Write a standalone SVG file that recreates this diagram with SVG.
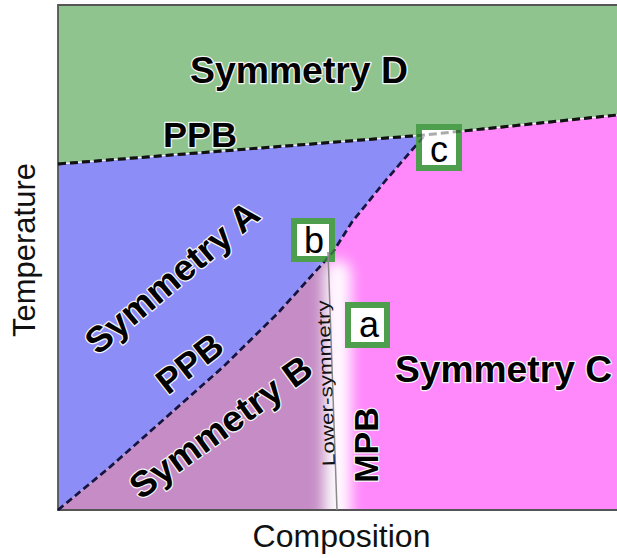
<svg xmlns="http://www.w3.org/2000/svg" width="617" height="558" viewBox="0 0 617 558">
<defs>
<style>
.lbl{font-family:"Liberation Sans",Arial,sans-serif;font-weight:bold;fill:#000;stroke:#f4f4f4;stroke-width:2.5;paint-order:stroke;stroke-linejoin:round}
.ax{font-family:"Liberation Sans",Arial,sans-serif;fill:#111}
.box{fill:#fff;stroke:#4d9f4d;stroke-width:6}
.let{font-family:"Liberation Sans",Arial,sans-serif;font-size:36px;fill:#000;text-anchor:middle}
.dash{fill:none;stroke:#111;stroke-width:3;stroke-dasharray:8 4;stroke-linejoin:round}
.dash2{fill:none;stroke:#151540;stroke-width:2.6;stroke-dasharray:7 4;stroke-linejoin:round}
</style>
<filter id="blur" x="-100%" y="-20%" width="300%" height="140%"><feGaussianBlur stdDeviation="7"/></filter>
<clipPath id="plot"><rect x="58" y="5" width="559" height="505"/></clipPath>
</defs>
<rect width="617" height="558" fill="#fff"/>
<g id="regions" clip-path="url(#plot)">
<polygon id="symD" points="58,5 617,5 617,115 425,135 58,164" fill="#8fc48f"/>
<polygon id="symA" points="58,164 425,135 386,180 352,222 333,252 278,313 223,367 110,467 58,510" fill="#8d8df7"/>
<polygon id="symC" points="425,135 617,115 617,510 337,510 328,252 333,252 352,222 386,180" fill="#ff88fa"/>
<polygon id="symB" points="333,252 328,252 337,510 58,510 110,467 223,367 278,313" fill="#c58cc5"/>
<rect id="glow" x="324" y="260" width="27" height="272" rx="13" fill="#fff" filter="url(#blur)" opacity="0.95"/>
</g>
<g id="frame" fill="none" stroke="#555" stroke-width="1.8">
<polyline points="617,5 58,5 58,510 617,510"/>
</g>
<g id="connectors">
<polyline points="58,164 425,135 617,115" fill="none" stroke="#fff" stroke-width="1.5" opacity="0.8"/>
<polyline class="dash" points="58,164 425,135 617,115"/>
<polyline class="dash2" points="58,510 110,467 223,367 278,313 333,252 352,222 386,180 425,135"/>
</g>
<g id="box-c"><rect class="box" x="419" y="127" width="40" height="41"/></g>
<g id="box-b"><rect class="box" x="294" y="221" width="38" height="38"/></g>
<g id="box-a"><rect class="box" x="348" y="305" width="39" height="40"/></g>
<g id="connectors-over" opacity="0.35">
<polyline class="dash" points="58,164 425,135 617,115"/>
<polyline class="dash2" points="58,510 110,467 223,367 278,313 333,252 352,222 386,180 425,135"/>
</g>
<g id="lower-symmetry">
<line x1="328" y1="252" x2="337" y2="510" stroke="#8a8a8a" stroke-width="1.5"/>
<text class="ax" font-size="18" text-anchor="middle" textLength="166" lengthAdjust="spacingAndGlyphs" transform="translate(332,383) rotate(-92)" fill="#222">Lower-symmetry</text>
</g>
<g id="letters">
<text class="let" x="439" y="162">c</text>
<text class="let" x="314" y="253">b</text>
<text class="let" x="369" y="337">a</text>
</g>
<g id="labels">
<text class="lbl" font-size="36" x="299" y="83" text-anchor="middle" textLength="218" lengthAdjust="spacingAndGlyphs">Symmetry D</text>
<text class="lbl" font-size="35" x="200" y="147" text-anchor="middle" textLength="74" lengthAdjust="spacingAndGlyphs">PPB</text>
<text class="lbl" font-size="36" x="503.5" y="382" text-anchor="middle" textLength="217" lengthAdjust="spacingAndGlyphs">Symmetry C</text>
<text class="lbl" font-size="36" text-anchor="middle" textLength="215" lengthAdjust="spacingAndGlyphs" transform="translate(180,287) rotate(-40)">Symmetry A</text>
<text class="lbl" font-size="36" text-anchor="middle" textLength="216" lengthAdjust="spacingAndGlyphs" transform="translate(228,437) rotate(-36)">Symmetry B</text>
<text class="lbl" font-size="35" text-anchor="middle" textLength="74" lengthAdjust="spacingAndGlyphs" transform="translate(197,373) rotate(-38)">PPB</text>
<text class="lbl" font-size="34" text-anchor="middle" transform="translate(378,445) rotate(-90)">MPB</text>
</g>
<g id="axes">
<text class="ax" font-size="32" x="341.5" y="547" text-anchor="middle">Composition</text>
<text class="ax" font-size="31" text-anchor="middle" transform="translate(35,250) rotate(-90)">Temperature</text>
</g>
</svg>
